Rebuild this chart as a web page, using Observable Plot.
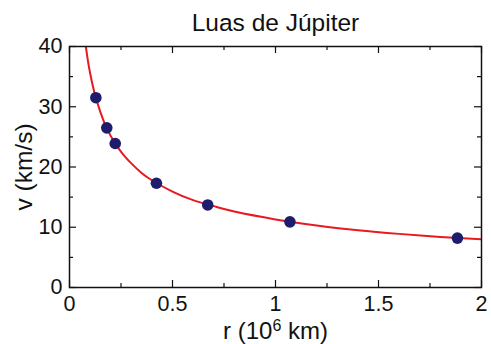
<!DOCTYPE html>
<html>
<head>
<meta charset="utf-8">
<script src="https://cdn.jsdelivr.net/npm/d3@7"></script>
<script src="https://cdn.jsdelivr.net/npm/@observablehq/plot@0.6"></script>
<style>
  html, body { margin: 0; padding: 0; background: #fff; }
  svg { font-family: "Liberation Sans", Arial, sans-serif; }
</style>
</head>
<body>
<div id="chart"></div>
<script>
// Orbital radius (10^6 km) and orbital speed (km/s) of Jupiter's moons
const moons = ["Metis", "Amalthea", "Thebe", "Io", "Europa", "Ganymede", "Callisto"];
const radius = [0.128, 0.181, 0.222, 0.422, 0.671, 1.070, 1.883];
const speed = [31.5, 26.5, 23.9, 17.3, 13.7, 10.9, 8.2];

// Keplerian curve v(r) for Jupiter
const curveR = [0.075, 0.08, 0.09, 0.10, 0.12, 0.15, 0.18, 0.22, 0.26, 0.30, 0.35, 0.40, 0.50, 0.60, 0.70, 0.80, 1.00, 1.20, 1.40, 1.60, 1.80, 2.00];
const curveV = [41.1, 39.8, 37.5, 35.6, 32.5, 29.1, 26.5, 24.0, 22.1, 20.6, 19.0, 17.8, 15.9, 14.5, 13.5, 12.6, 11.3, 10.3, 9.5, 8.9, 8.4, 8.0];

const xMajor = [0, 0.5, 1, 1.5, 2];
const xMinor = [0.25, 0.75, 1.25, 1.75];
const yMajor = [0, 10, 20, 30, 40];
const yMinor = [5, 15, 25, 35];

const title = "Luas de Júpiter";
const yLabel = "v (km/s)";
const xLabel = "r (10|6| km)"; // base | exponent | unit

const moonData = moons.map((name, i) => ({name, r: radius[i], v: speed[i]}));
const curveData = curveR.map((r, i) => ({r, v: curveV[i]}));

const W = 491, H = 344;
const mt = 46, mb = 57, ml = 69, mr = 10;
const fw = W - ml - mr, fh = H - mt - mb;
const major = 7, minor = 4;

const chart = Plot.plot({
  width: W,
  height: H,
  marginTop: mt,
  marginBottom: mb,
  marginLeft: ml,
  marginRight: mr,
  style: {fontFamily: "'Liberation Sans', Arial, sans-serif", fontSize: "21.5px", color: "#111", background: "#fff"},
  x: {domain: [0, 2]},
  y: {domain: [0, 40]},
  marks: [
    // inward ticks on all four sides
    Plot.tickX(xMajor, {x: d => d, insetTop: fh - major, stroke: "#111", strokeWidth: 1.2}),
    Plot.tickX(xMinor, {x: d => d, insetTop: fh - minor, stroke: "#111", strokeWidth: 1.2}),
    Plot.tickX(xMajor, {x: d => d, insetBottom: fh - major, stroke: "#111", strokeWidth: 1.2}),
    Plot.tickX(xMinor, {x: d => d, insetBottom: fh - minor, stroke: "#111", strokeWidth: 1.2}),
    Plot.tickY(yMajor, {y: d => d, insetRight: fw - major, stroke: "#111", strokeWidth: 1.2}),
    Plot.tickY(yMinor, {y: d => d, insetRight: fw - minor, stroke: "#111", strokeWidth: 1.2}),
    Plot.tickY(yMajor, {y: d => d, insetLeft: fw - major, stroke: "#111", strokeWidth: 1.2}),
    Plot.tickY(yMinor, {y: d => d, insetLeft: fw - minor, stroke: "#111", strokeWidth: 1.2}),
    Plot.axisX({ticks: xMajor, tickSize: 0, tickPadding: 8, tickFormat: d => String(d), fontSize: 21.5, label: null}),
    Plot.axisY({ticks: yMajor, tickSize: 0, tickPadding: 7, tickFormat: d => String(d), fontSize: 21.5, label: null}),
    Plot.line(curveData, {x: "r", y: "v", stroke: "#e8191f", strokeWidth: 2, curve: "natural", clip: true}),
    Plot.dot(moonData, {x: "r", y: "v", r: 5.8, fill: "#1e1c6c", stroke: "none"}),
    Plot.frame({stroke: "#111", strokeWidth: 1.5}),
    // title and axis labels, placed in data space around the frame
    Plot.text([title], {x: () => 1, y: () => 43.95, fontSize: 24.5, fill: "#111"}),
    Plot.text([yLabel], {x: () => -0.222, y: () => 20, rotate: -90, fontSize: 24.5, fill: "#111"}),
    Plot.text([xLabel], {x: () => 1, y: () => -7.2, fontSize: 24, fill: "#111"})
  ]
});

// render the exponent of the x-axis label as a superscript
d3.select(chart).selectAll("text")
  .filter(function() { return this.textContent === xLabel; })
  .each(function() {
    const [base, exp, unit] = xLabel.split("|");
    const t = d3.select(this).text(base);
    t.append("tspan").attr("baseline-shift", "super").attr("font-size", "16px").text(exp);
    t.append("tspan").text(unit);
  });

document.getElementById("chart").appendChild(chart);
</script>
</body>
</html>
